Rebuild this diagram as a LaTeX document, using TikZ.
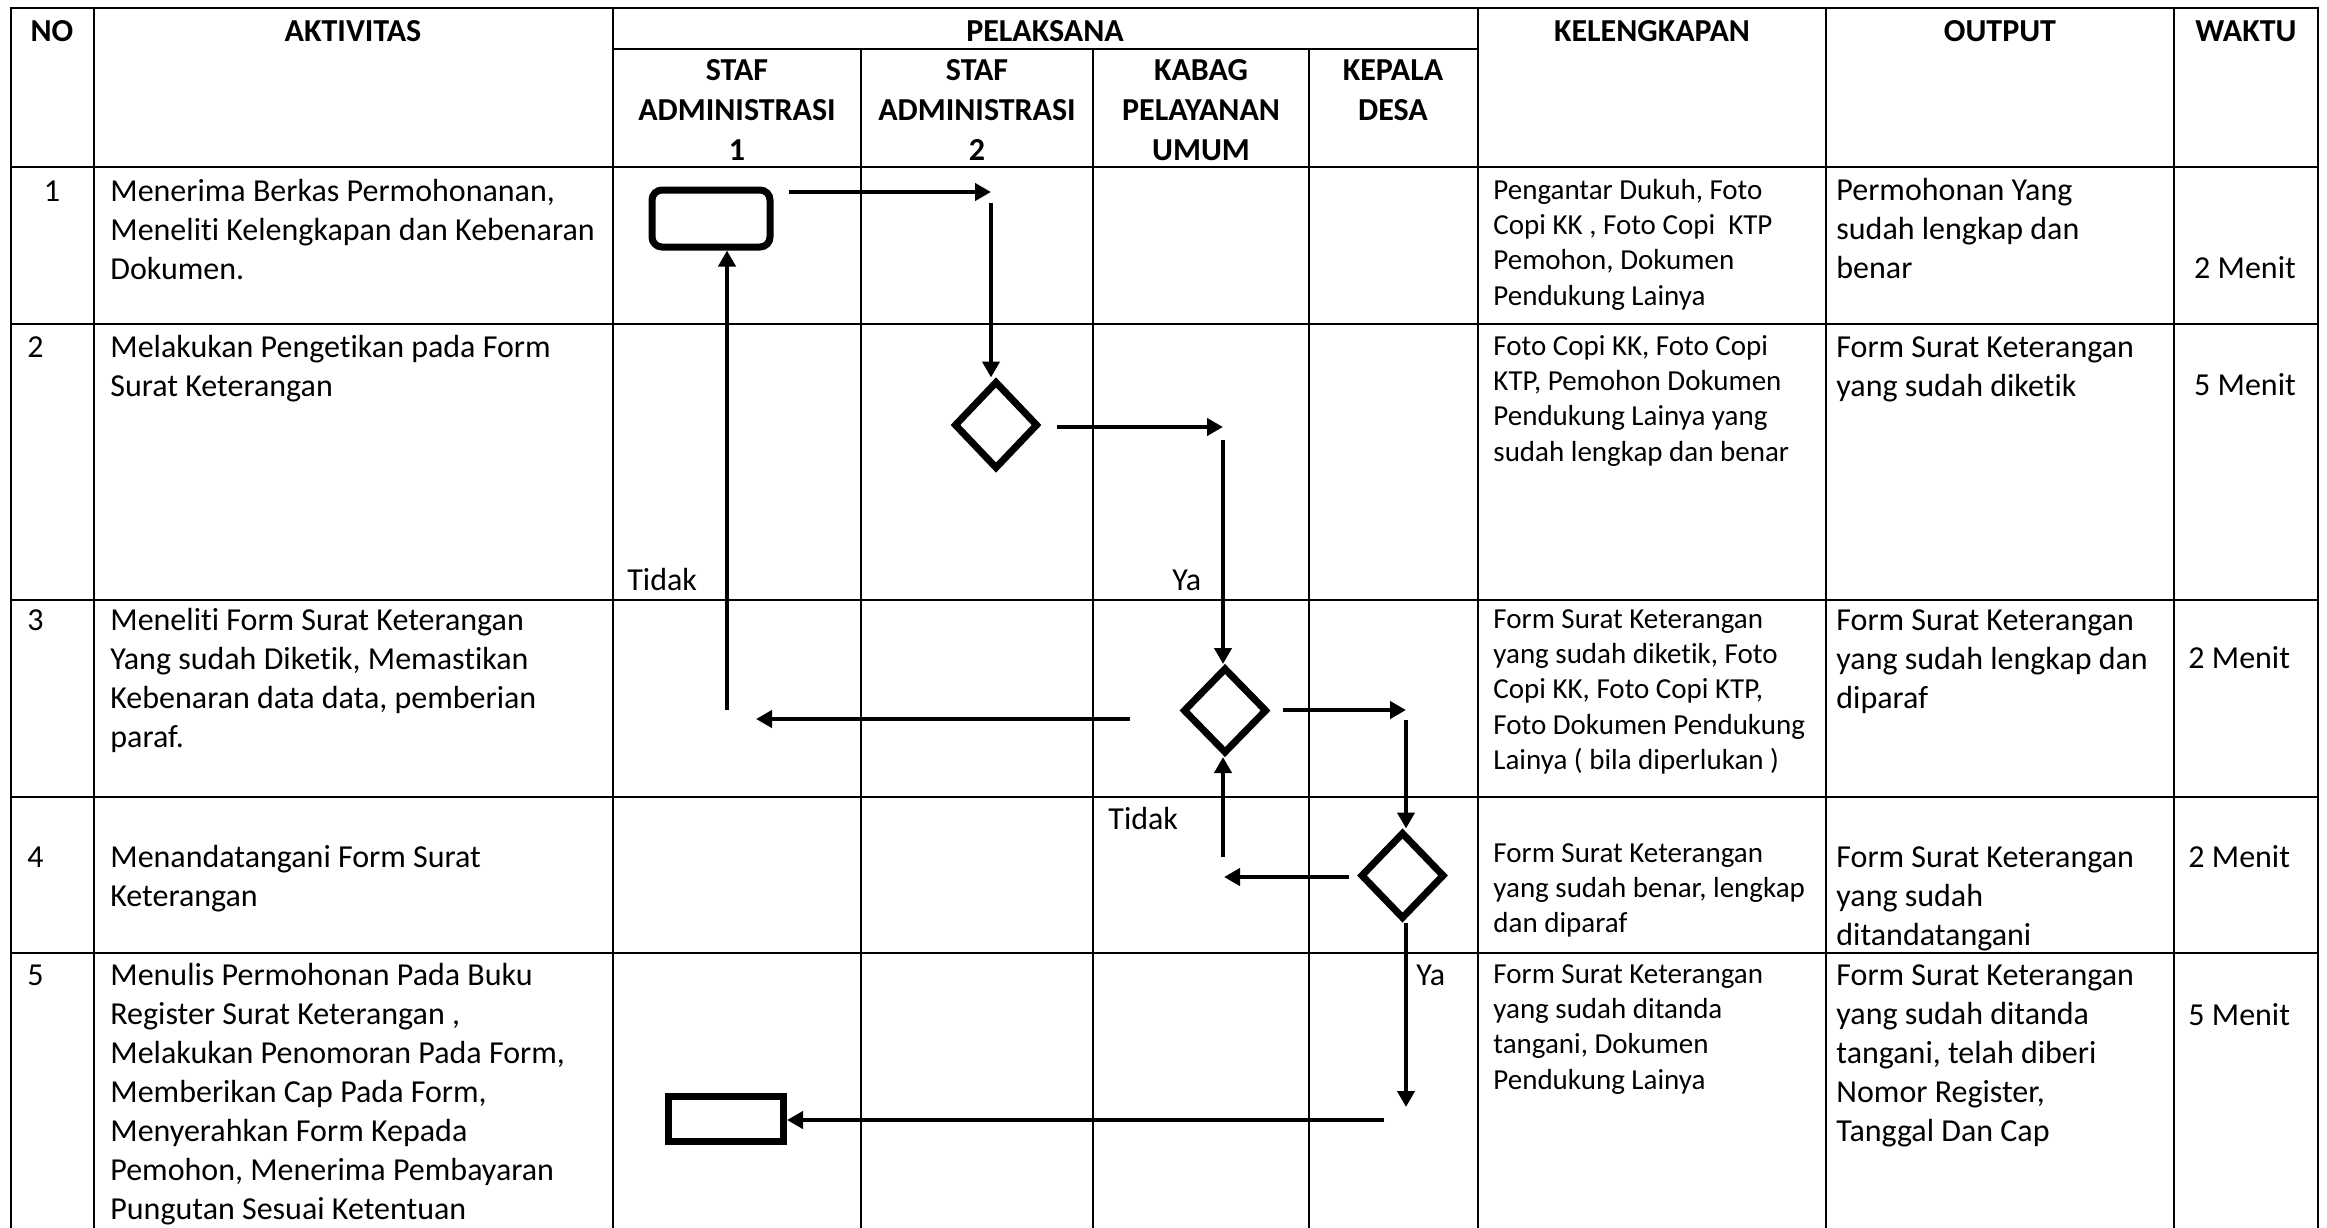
\documentclass[tikz,border=0pt]{standalone}
\usepackage{fontspec}
\setmainfont[Ligatures={NoCommon},Contextuals={NoAlternate}]{Carlito}
\usetikzlibrary{arrows.meta,shapes.geometric}
\newcommand{\ltxt}[1]{\parbox[t]{300pt}{\raggedright #1}}
\newcommand{\ctxt}[1]{\parbox[t]{200pt}{\centering #1}}
\begin{document}
\begin{tikzpicture}[x=0.5pt,y=-0.5pt,
  grid/.style={line width=1pt,line cap=rect},
  body/.style={font=\fontsize{16pt}{19.5pt}\selectfont,inner sep=0pt,anchor=base west},
  bodyc/.style={font=\fontsize{16pt}{19.5pt}\selectfont,inner sep=0pt,anchor=base},
  small/.style={font=\fontsize{14.5pt}{17.7pt}\selectfont,inner sep=0pt,anchor=base west},
  head/.style={font=\bfseries\fontsize{16pt}{20pt}\selectfont,inner sep=0pt,anchor=base},
  arr/.style={line width=2pt,-{Triangle[length=8pt,width=8.5pt]}},
  dec/.style={diamond,draw,line width=3.5pt,minimum width=42pt,minimum height=44pt,inner sep=0pt},
  procbox/.style={draw,line width=3.5pt,inner sep=0pt}]
\useasboundingbox (0,0) rectangle (2327,1227);
\fill[white] (0,0) rectangle (2327,1227);
% horizontal grid lines
\draw[grid] (11,8) -- (2318,8);
\draw[grid] (613,49) -- (1478,49);
\draw[grid] (11,167) -- (2318,167);
\draw[grid] (11,324) -- (2318,324);
\draw[grid] (11,600) -- (2318,600);
\draw[grid] (11,797) -- (2318,797);
\draw[grid] (11,953) -- (2318,953);
% vertical grid lines
\foreach \x in {11,94,613,1478,1826,2174,2318} \draw[grid] (\x,8) -- (\x,1230);
\foreach \x in {861,1093,1309} \draw[grid] (\x,49) -- (\x,1230);
% headers
\node[head] (hNO) at (52,41) {NO};
\node[head] (hAkt) at (353,41) {AKTIVITAS};
\node[head] (hPel) at (1045,41) {PELAKSANA};
\node[head] (hKel) at (1652,41) {KELENGKAPAN};
\node[head] (hOut) at (2000,41) {OUTPUT};
\node[head] (hWak) at (2246,41) {WAKTU};
\node[head] (hS1) at (737,80) {\ctxt{STAF\\ADMINISTRASI\\1}};
\node[head] (hS2) at (977,80) {\ctxt{STAF\\ADMINISTRASI\\2}};
\node[head] (hKB) at (1201,80) {\ctxt{KABAG\\PELAYANAN\\UMUM}};
\node[head] (hKD) at (1393,80) {\ctxt{KEPALA\\DESA}};
% row 1
\node[bodyc] (n1) at (52,201) {1};
\node[body] (a1) at (110,201) {\ltxt{Menerima Berkas Permohonanan,\\Meneliti Kelengkapan dan Kebenaran\\Dokumen.}};
\node[small] (k1) at (1493,199) {\ltxt{Pengantar Dukuh, Foto\\Copi KK , Foto Copi\ \ KTP\\Pemohon, Dokumen\\Pendukung Lainya}};
\node[body] (o1) at (1836,200) {\ltxt{Permohonan Yang\\sudah lengkap dan\\benar}};
\node[bodyc] (w1) at (2245,278) {2 Menit};
% row 2
\node[body] (n2) at (27,357) {2};
\node[body] (a2) at (110,357) {\ltxt{Melakukan Pengetikan pada Form\\Surat Keterangan}};
\node[small] (k2) at (1493,355) {\ltxt{Foto Copi KK, Foto Copi\\KTP, Pemohon Dokumen\\Pendukung Lainya yang\\sudah lengkap dan benar}};
\node[body] (o2) at (1836,357) {\ltxt{Form Surat Keterangan\\yang sudah diketik}};
\node[bodyc] (w2) at (2245,395) {5 Menit};
\node[body] (lt1) at (627,590) {Tidak};
\node[body] (ly1) at (1172,590) {Ya};
% row 3
\node[body] (n3) at (27,630) {3};
\node[body] (a3) at (110,630) {\ltxt{Meneliti Form Surat Keterangan\\Yang sudah Diketik, Memastikan\\Kebenaran data data, pemberian\\paraf.}};
\node[small] (k3) at (1493,628) {\ltxt{Form Surat Keterangan\\yang sudah diketik, Foto\\Copi KK, Foto Copi KTP,\\Foto Dokumen Pendukung\\Lainya ( bila diperlukan )}};
\node[body] (o3) at (1836,630) {\ltxt{Form Surat Keterangan\\yang sudah lengkap dan\\diparaf}};
\node[body] (w3) at (2188,668) {2 Menit};
% row 4
\node[body] (n4) at (27,867) {4};
\node[body] (a4) at (110,867) {\ltxt{Menandatangani Form Surat\\Keterangan}};
\node[small] (k4) at (1493,862) {\ltxt{Form Surat Keterangan\\yang sudah benar, lengkap\\dan diparaf}};
\node[body] (o4) at (1836,867) {\ltxt{Form Surat Keterangan\\yang sudah\\ditandatangani}};
\node[body] (w4) at (2188,867) {2 Menit};
\node[body] (lt2) at (1108,829) {Tidak};
% row 5
\node[body] (n5) at (27,985) {5};
\node[body] (a5) at (110,985) {\ltxt{Menulis Permohonan Pada Buku\\Register Surat Keterangan ,\\Melakukan Penomoran Pada Form,\\Memberikan Cap Pada Form,\\Menyerahkan Form Kepada\\Pemohon, Menerima Pembayaran\\Pungutan Sesuai Ketentuan}};
\node[small] (k5) at (1493,983) {\ltxt{Form Surat Keterangan\\yang sudah ditanda\\tangani, Dokumen\\Pendukung Lainya}};
\node[body] (o5) at (1836,985) {\ltxt{Form Surat Keterangan\\yang sudah ditanda\\tangani, telah diberi\\Nomor Register,\\Tanggal Dan Cap}};
\node[body] (w5) at (2188,1025) {5 Menit};
\node[body] (ly2) at (1416,985) {Ya};
% flow shapes
\node[procbox,rounded corners=5pt,minimum width=59pt,minimum height=28.5pt] (s1) at (711,218.5) {};
\node[dec] (d1) at (996,425) {};
\node[dec,minimum height=43pt] (d2) at (1225,710.5) {};
\node[dec,minimum height=43.5pt] (d3) at (1402.5,875.5) {};
\node[procbox,minimum width=57.5pt,minimum height=22.5pt] (s5) at (726,1119) {};
% connector points
\coordinate (a1s) at (789,192);
\coordinate (a1e) at (991,192);
\coordinate (v1s) at (991,203);
\coordinate (a2s) at (1057,427);
\coordinate (a2e) at (1223,427);
\coordinate (v2s) at (1223,440);
\coordinate (a3s) at (1130,719);
\coordinate (a3e) at (756,719);
\coordinate (t1) at (727,710);
\coordinate (a4s) at (1283,710);
\coordinate (a4e) at (1406,710);
\coordinate (v4s) at (1406,720);
\coordinate (a5s) at (1349,877);
\coordinate (a5e) at (1224,877);
\coordinate (u1) at (1223,857);
\coordinate (v6e) at (1406,1107);
\coordinate (a6s) at (1384,1120);
% connectors
\draw[arr] (a1s) -- (a1e);
\draw[arr] (v1s) -- (v1s |- d1.north);
\draw[arr] (a2s) -- (a2e);
\draw[arr] (v2s) -- (v2s |- d2.north);
\draw[arr] (a3s) -- (a3e);
\draw[arr] (t1) -- (t1 |- s1.south);
\draw[arr] (a4s) -- (a4e);
\draw[arr] (v4s) -- (v4s |- d3.north);
\draw[arr] (a5s) -- (a5e);
\draw[arr] (u1) -- (u1 |- d2.south);
\draw[arr] (v6e |- d3.south) -- (v6e);
\draw[arr] (a6s) -- (a6s -| s5.east);
\end{tikzpicture}
\end{document}
